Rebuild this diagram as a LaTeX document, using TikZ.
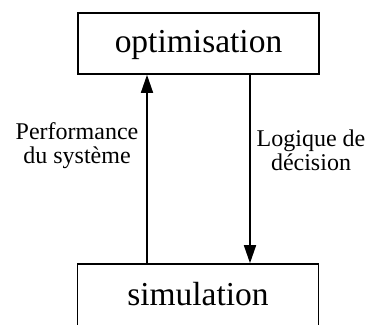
\documentclass[tikz,border=0pt]{standalone}
\usepackage{fontspec}
\setmainfont{Liberation Serif}
\usetikzlibrary{arrows.meta}
\begin{document}
\begin{tikzpicture}[x=1pt,y=-1pt,
  blockbox/.style={draw=black,line width=1.6pt,minimum width=241pt,inner sep=0pt,
    font=\fontsize{33.5}{40}\selectfont,text height=24pt,text depth=7pt},
  flowarrow/.style={line width=1.6pt,-{Triangle[length=18pt,width=12pt]}},
  sidelabel/.style={font=\fontsize{24}{24}\selectfont,align=center,inner sep=0pt,anchor=base}]
\useasboundingbox (0,0) rectangle (368,325);
\clip (0,0) rectangle (368,325);
% the two blocks
\node[blockbox,minimum height=61pt] (opt) at (198.5,43.5) {optimisation};
\node[blockbox,minimum height=66pt] (sim) at (198,297) {simulation};
% x positions of the two connectors
\coordinate (upx) at (147,0);
\coordinate (downx) at (250,0);
\draw[flowarrow] (sim.north -| upx) -- (opt.south -| upx);
\draw[flowarrow] (opt.south -| downx) -- (sim.north -| downx);
% labels beside the connectors (base anchor sits on the last line)
\node[sidelabel] (perf) at (77,163) {Performance\\du système};
\node[sidelabel] (logic) at (311,170) {Logique de\\décision};
\end{tikzpicture}
\end{document}
